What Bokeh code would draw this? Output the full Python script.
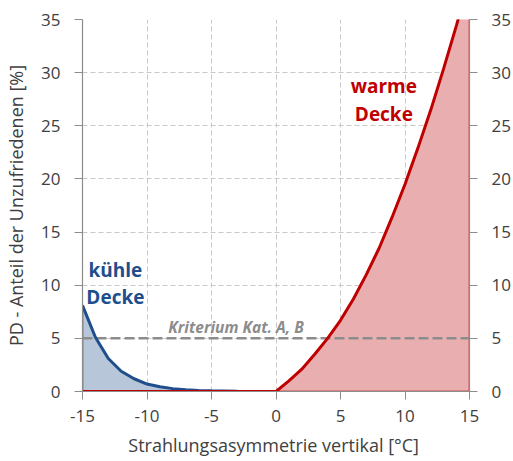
from bokeh.plotting import figure
from bokeh.models import Range1d, LinearAxis, SingleIntervalTicker, Label, PrintfTickFormatter
from bokeh.embed import file_html
from bokeh.resources import INLINE

# Data
cool_x = [-15, -14, -13, -12, -11, -10, -9, -8, -7, -6, -5, -4, -3, -2, -1, 0]
cool_y = [8.1, 5.1, 3.1, 1.9, 1.2, 0.7, 0.44, 0.27, 0.16, 0.1, 0.06, 0.04, 0.02, 0.01, 0.01, 0.0]

warm_x = [-15, -10, -5, 0, 1, 2, 3, 4, 5, 6, 7, 8, 9, 10, 11, 12, 13, 14, 15]
warm_y = [0, 0, 0, 0, 1.0, 2.1, 3.5, 5.0, 6.7, 8.7, 11.0, 13.5, 16.4, 19.5, 22.9, 26.5, 30.4, 34.5, 38.8]

crit_x = [-15, 15]
crit_y = [5, 5]

FONT = "Open Sans"
TXT = "#404040"
GRID = "#c8c8c8"
AX = "#8c8c8c"
BLUE = "#1f4e8c"
BLUE_FILL = "#b7c6d8"
RED = "#c00000"
RED_FILL = "#e9afb0"

p = figure(width=513, height=461, output_backend="svg", toolbar_location=None,
           x_range=Range1d(-15, 15), y_range=Range1d(0, 35),
           min_border_left=82, min_border_right=43, min_border_top=19, min_border_bottom=70)
p.outline_line_color = None
p.background_fill_color = "white"
p.border_fill_color = "white"

p.xaxis.ticker = SingleIntervalTicker(interval=5)
p.yaxis.ticker = SingleIntervalTicker(interval=5)

for g in (p.xgrid, p.ygrid):
    g.grid_line_color = GRID
    g.grid_line_dash = "5 3"
    g.grid_line_width = 1

right = LinearAxis(ticker=SingleIntervalTicker(interval=5))
p.add_layout(right, "right")

for ax in p.axis:
    ax.formatter = PrintfTickFormatter(format="%d")
    ax.axis_line_color = AX
    ax.axis_line_width = 1.2
    ax.major_tick_line_color = AX
    ax.major_tick_out = 8
    ax.major_tick_in = 0
    ax.minor_tick_line_color = None
    ax.major_label_text_font = FONT
    ax.major_label_text_font_size = "17px"
    ax.major_label_text_color = TXT
    ax.axis_label_text_font = FONT
    ax.axis_label_text_font_size = "18px"
    ax.axis_label_text_color = TXT
    ax.axis_label_text_font_style = "normal"
    ax.major_label_standoff = 14

p.xaxis.major_label_standoff = 10
p.xaxis.axis_label = "Strahlungsasymmetrie vertikal  [°C]"
p.xaxis.axis_label_standoff = 8
p.yaxis[0].axis_label = "PD - Anteil der Unzufriedenen [%]"
p.yaxis[0].axis_label_standoff = 10

# fills
p.patch(x=cool_x + [0, -15], y=cool_y + [0, 0], fill_color=BLUE_FILL, fill_alpha=1,
        line_color=BLUE, line_width=1.5)
p.patch(x=warm_x + [15, -15], y=warm_y + [0, 0], fill_color=RED_FILL, fill_alpha=1,
        line_color=RED, line_width=1.5)

# criterion line
p.line(crit_x, crit_y, line_color="#8c8c8c", line_width=2.5, line_dash="10 4")

# curves
p.line(cool_x, cool_y, line_color=BLUE, line_width=3)
p.line(warm_x, warm_y, line_color=RED, line_width=3)

def lab(x, y, t, color, size="19px", style="bold"):
    p.add_layout(Label(x=x, y=y, text=t, text_color=color, text_font=FONT,
                       text_font_size=size, text_font_style=style,
                       text_align="center", text_baseline="middle"))

lab(-12.45, 11.45, "kühle", BLUE)
lab(-12.45, 8.9, "Decke", BLUE)
lab(8.36, 28.7, "warme", RED)
lab(8.36, 26.1, "Decke", RED)
lab(-3.1, 6.1, "Kriterium Kat. A, B", "#8c8c8c", size="15.5px", style="bold italic")

open("out.html", "w").write(file_html(p, INLINE))
